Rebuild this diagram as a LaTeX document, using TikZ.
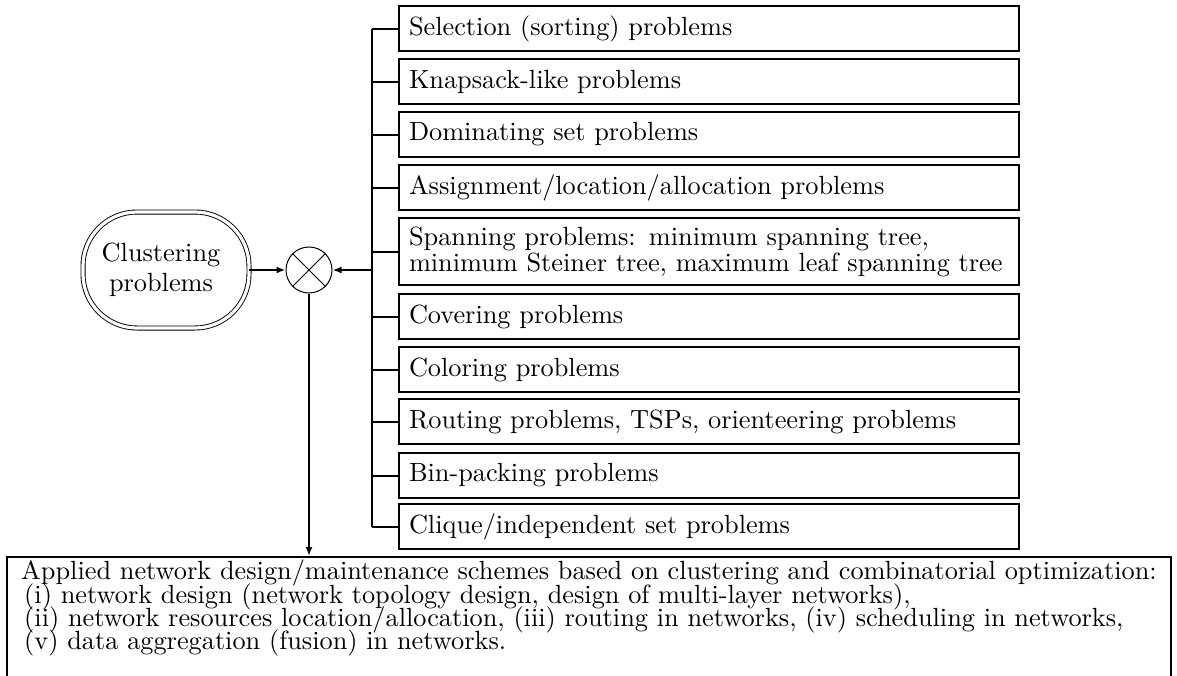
\documentclass[tikz,border=0pt]{standalone}
\usepackage{fontspec}
\setmainfont{lmroman10-regular.otf}
\usetikzlibrary{arrows.meta}
% a stack of lines set at a fixed, tight baseline distance
\newcommand\tightstack[1]{\vtop{\baselineskip=11.7pt\lineskiplimit=-100pt\lineskip=0pt#1}}
\begin{document}
\begin{tikzpicture}[x=0.5pt,y=-0.5pt,
  font=\fontsize{13.15}{13}\selectfont,
  tip/.style={-{Latex[length=4.5pt,width=3.5pt]}},
  conn/.style={line width=1pt},
  probbox/.style={draw,line width=1pt,anchor=north west,
    minimum height=22.5pt,text width=300pt,inner xsep=5pt,inner ysep=0pt,align=left},
  mixer/.style={circle,draw,line width=0.5pt,minimum size=23pt,inner sep=0pt},
  startnode/.style={draw,double,line width=0.45pt,double distance=1.6pt,
    rounded corners=27pt,minimum width=83pt,minimum height=58pt,align=center,inner sep=0pt,
    font=\fontsize{13.15}{15}\selectfont}]
\useasboundingbox (0,0) rectangle (1177,675);

% problem classes on the right
\node[probbox] (p1) at (398,5) {Selection (sorting) problems};
\node[probbox] (p2) at (398,58) {Knapsack-like problems};
\node[probbox] (p3) at (398,111) {Dominating set problems};
\node[probbox] (p4) at (398,164) {Assignment/location/allocation problems};
\node[probbox,minimum height=33.5pt] (p5) at (398,217) {Spanning problems: minimum spanning tree,\\minimum Steiner tree, maximum leaf spanning tree};
\node[probbox] (p6) at (398,293) {Covering problems};
\node[probbox] (p7) at (398,346) {Coloring problems};
\node[probbox] (p8) at (398,398) {Routing problems, TSPs, orienteering problems};
\node[probbox] (p9) at (398,452) {Bin-packing problems};
\node[probbox] (p10) at (398,503) {Clique/independent set problems};

% start node and combination operator
\node[startnode] (clu) at (166,270) {\hspace*{-5pt}Clustering\\\hspace*{-5pt}problems};
\node[mixer] (mix) at (309,270) {};
\draw[line width=0.5pt] (mix.north west) -- (mix.south east)
  (mix.north east) -- (mix.south west);

% bus collecting the problem classes
\coordinate (bus) at (372,270);
\draw[conn] (p1.west -| bus) -- (p10.west -| bus);
\foreach \i in {1,...,10}{\draw[conn] (p\i.west) -- (p\i.west -| bus);}
\draw[conn,tip] (bus) -- (mix.east);
\draw[conn,tip] (clu.east) -- (mix.west);

% applications
\node[draw,line width=1pt,anchor=north west,minimum width=582pt,inner xsep=6.5pt,inner ysep=1.5pt,
  text depth=70pt] (app) at (6,556)
  {\tightstack{%
   \hbox{Applied network design/maintenance schemes based on clustering and combinatorial optimization:}
   \hbox{\hspace{1.5pt}(i) network design (network topology design, design of multi-layer networks),}
   \hbox{\hspace{1.5pt}(ii) network resources location/allocation, (iii) routing in networks, (iv) scheduling in networks,}
   \hbox{\hspace{1.5pt}(v) data aggregation (fusion) in networks.}}};
\draw[conn,tip] (mix.south) -- (mix.south |- app.north);
\end{tikzpicture}
\end{document}
